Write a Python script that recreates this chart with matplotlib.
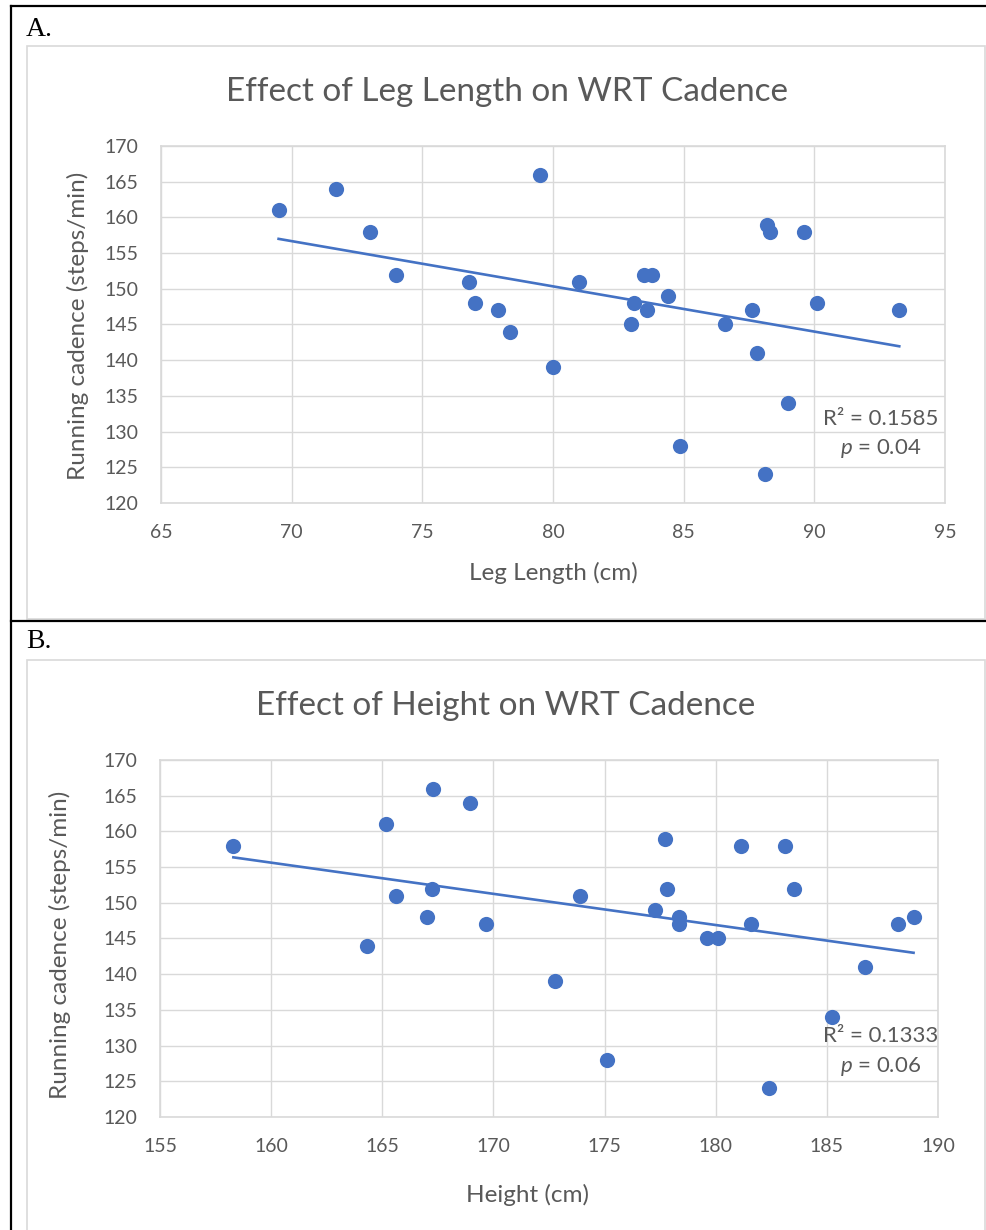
import numpy as np
import matplotlib
matplotlib.use("Agg")
import matplotlib.pyplot as plt
from matplotlib.lines import Line2D
from matplotlib.patches import Rectangle

plt.rcParams["font.family"] = ["Lato", "DejaVu Sans"]
plt.rcParams["mathtext.fontset"] = "custom"
plt.rcParams["mathtext.it"] = "Lato:italic"
plt.rcParams["mathtext.rm"] = "Lato"

# panel A: leg length (cm) vs running cadence (steps/min)
leg_length = [69.5, 71.7, 73.0, 74.0, 76.8, 77.0, 77.9, 78.35, 79.5, 80.0,
              81.0, 83.0, 83.1, 83.5, 83.6, 83.8, 84.4, 84.85, 86.6, 87.6,
              87.8, 88.1, 88.2, 88.3, 89.0, 89.6, 90.1, 93.25]
cadence_a = [161, 164, 158, 152, 151, 148, 147, 144, 166, 139,
             151, 145, 148, 152, 147, 152, 149, 128, 145, 147,
             141, 124, 159, 158, 134, 158, 148, 147]

# panel B: height (cm) vs running cadence (steps/min)
height = [158.3, 164.3, 165.15, 165.6, 167.0, 167.25, 167.3, 168.95, 169.65, 172.75,
          173.9, 175.1, 177.25, 177.7, 177.8, 178.35, 178.35, 179.6, 180.1, 181.15,
          181.6, 182.4, 183.1, 183.5, 185.25, 186.7, 188.2, 188.9]
cadence_b = [158, 144, 161, 151, 148, 152, 166, 164, 147, 139,
             151, 128, 149, 159, 152, 148, 147, 145, 145, 158,
             147, 124, 158, 152, 134, 141, 147, 148]

W, H = 987, 1230
BLUE = "#4472C4"
GREY = "#595959"
GRID = "#D9D9D9"

fig = plt.figure(figsize=(W / 100, H / 100), dpi=100)


def fx(x):
    return x / W


def fy(y):
    return 1 - y / H


# outer table borders
for (x0, y0, x1, y1) in [(11, 6, 987, 6), (11, 621, 987, 621), (11, 6, 11, 1230)]:
    fig.add_artist(Line2D([fx(x0), fx(x1)], [fy(y0), fy(y1)], color="black", lw=1.6))

# chart-area frames
for (x0, y0, x1, y1) in [(27, 46, 985, 619), (27, 660, 985, 1232)]:
    fig.add_artist(Rectangle((fx(x0), fy(y1)), fx(x1 - x0), (y1 - y0) / H,
                             fill=False, ec=GRID, lw=1.2))

fig.text(fx(26), fy(29), "A.", family="Liberation Serif", fontsize=20, va="center")
fig.text(fx(26), fy(642), "B.", family="Liberation Serif", fontsize=20, va="center")


def panel(box, xs, ys, xlim, title, xlabel, title_xy, xlabel_xy, ylabel_xy, r2_xy, r2, p):
    x0, y0, x1, y1 = box
    ax = fig.add_axes([fx(x0), fy(y1), fx(x1 - x0), (y1 - y0) / H])
    ax.set_xlim(*xlim)
    ax.set_ylim(120, 170)
    ax.set_xticks(np.arange(xlim[0], xlim[1] + 1, 5))
    ax.set_yticks(np.arange(120, 171, 5))
    ax.grid(True, color=GRID, lw=1.0)
    ax.set_axisbelow(True)
    for s in ax.spines.values():
        s.set_color(GRID)
        s.set_linewidth(1.2)
    ax.tick_params(length=0, labelsize=14, labelcolor=GREY)
    ax.tick_params(axis="y", pad=16)
    ax.tick_params(axis="x", pad=15)

    ax.scatter(xs, ys, s=120, color=BLUE, zorder=3, linewidths=0)
    k, b = np.polyfit(xs, ys, 1)
    tx = np.array([min(xs), max(xs)])
    ax.plot(tx, k * tx + b, color=BLUE, lw=1.9, zorder=2)

    fig.text(fx(title_xy[0]), fy(title_xy[1]), title, fontsize=24, color=GREY,
             ha="center", va="center")
    fig.text(fx(xlabel_xy[0]), fy(xlabel_xy[1]), xlabel, fontsize=17.5, color=GREY,
             ha="center", va="center")
    fig.text(fx(ylabel_xy[0]), fy(ylabel_xy[1]), "Running cadence (steps/min)",
             fontsize=17.5, color=GREY, ha="center", va="center", rotation=90)
    fig.text(fx(r2_xy[0]), fy(r2_xy[1]), "R² = " + r2, fontsize=16, color=GREY,
             ha="center", va="center")
    fig.text(fx(r2_xy[0]), fy(r2_xy[1] + 30), "$\\it{p}$ = " + p, fontsize=16, color=GREY,
             ha="center", va="center")
    return ax


panel((161, 146, 945, 503), leg_length, cadence_a, (65, 95),
      "Effect of Leg Length on WRT Cadence", "Leg Length (cm)",
      (507, 92), (553, 573), (78, 326), (881, 419), "0.1585", "0.04")
panel((160, 760, 938, 1117), height, cadence_b, (155, 190),
      "Effect of Height on WRT Cadence", "Height (cm)",
      (506, 706), (527, 1195), (60, 945), (881, 1036), "0.1333", "0.06")

fig.savefig("out.png", dpi=100)
